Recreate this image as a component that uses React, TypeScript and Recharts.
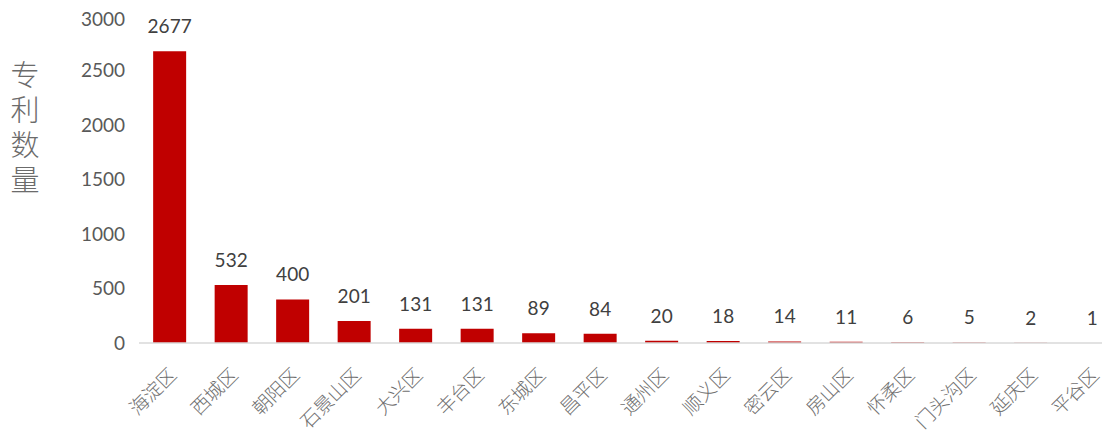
import { Bar, BarChart, LabelList, XAxis, YAxis } from "recharts";

const districts = [
  "海淀区", "西城区", "朝阳区", "石景山区", "大兴区", "丰台区", "东城区", "昌平区",
  "通州区", "顺义区", "密云区", "房山区", "怀柔区", "门头沟区", "延庆区", "平谷区",
];
const patents = [2677, 532, 400, 201, 131, 131, 89, 84, 20, 18, 14, 11, 6, 5, 2, 1];
const yTicks = [0, 500, 1000, 1500, 2000, 2500, 3000];
const yTitle = "专利数量";

const data = districts.map((name, i) => ({ name, v: patents[i] }));

const numFont = "Lato, 'Open Sans', sans-serif";
const cjkFont = "'Noto Sans CJK SC', sans-serif";

function XTick({ x, y, payload }: any) {
  const tx = x + 8;
  const ty = y + 25;
  return (
    <text
      x={tx}
      y={ty}
      transform={`rotate(-45 ${tx} ${ty})`}
      textAnchor="end"
      fill="#707070"
      fontFamily={cjkFont}
      fontSize={19}
      fontWeight={300}
    >
      {payload.value}
    </text>
  );
}

export default function App() {
  return (
    <div style={{ position: "relative", width: 1102, height: 433, background: "#fff" }}>
      <div style={{ position: "absolute", left: 0, top: 0, width: 1102, height: 433, overflow: "hidden" }}>
        <BarChart
          width={1120}
          height={433}
          data={data}
          margin={{ top: 8, right: 5, bottom: 0, left: 0 }}
          barCategoryGap="23%"
        >
          <XAxis
            dataKey="name"
            interval={0}
            height={98}
            tickLine={false}
            axisLine={{ stroke: "#d9d9d9", strokeWidth: 1.5 }}
            tick={<XTick />}
          />
          <YAxis
            width={131}
            domain={[0, 3000]}
            ticks={yTicks}
            axisLine={false}
            tickLine={false}
            tickMargin={8}
            tick={{ fill: "#595959", fontFamily: numFont, fontSize: 19 }}
          />
          <Bar dataKey="v" fill="#c00000" isAnimationActive={false}>
            <LabelList
              dataKey="v"
              position="top"
              offset={18}
              fill="#404040"
              fontFamily={numFont}
              fontSize={19}
            />
          </Bar>
        </BarChart>
      </div>
      <div
        style={{
          position: "absolute",
          left: -4,
          top: 52,
          writingMode: "vertical-rl",
          fontFamily: cjkFont,
          fontSize: 29,
          fontWeight: 300,
          letterSpacing: 6,
          color: "#6b6b6b",
        }}
      >
        {yTitle}
      </div>
    </div>
  );
}
